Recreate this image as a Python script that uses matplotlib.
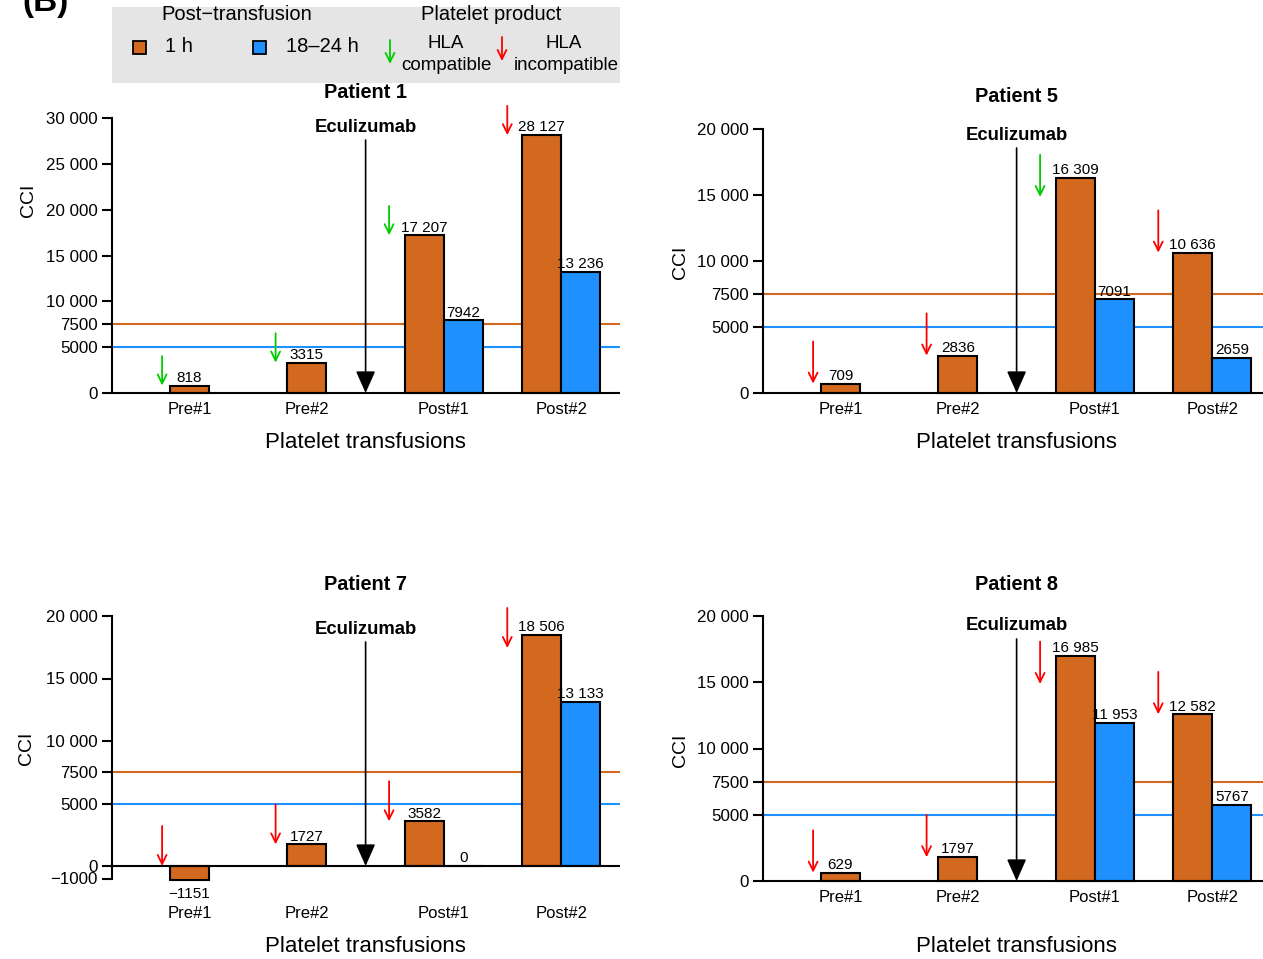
import numpy as np
import matplotlib
matplotlib.use("Agg")
import matplotlib.pyplot as plt
from matplotlib.patches import Rectangle, FancyArrowPatch

plt.rcParams['font.family'] = ['Liberation Sans', 'DejaVu Sans']

# ---- data -------------------------------------------------------------
categories = ["Pre#1", "Pre#2", "Post#1", "Post#2"]

# Corrected count increment (CCI) at 1 h and 18-24 h post-transfusion
p1_1h = [818, 3315, 17207, 28127]
p1_24h = [np.nan, np.nan, 7942, 13236]
p1_hla = ["compatible", "compatible", "compatible", "incompatible"]

p5_1h = [709, 2836, 16309, 10636]
p5_24h = [np.nan, np.nan, 7091, 2659]
p5_hla = ["incompatible", "incompatible", "compatible", "incompatible"]

p7_1h = [-1151, 1727, 3582, 18506]
p7_24h = [np.nan, np.nan, 0, 13133]
p7_hla = ["incompatible", "incompatible", "incompatible", "incompatible"]

p8_1h = [629, 1797, 16985, 12582]
p8_24h = [np.nan, np.nan, 11953, 5767]
p8_hla = ["incompatible", "incompatible", "incompatible", "incompatible"]

threshold_1h = 7500
threshold_24h = 5000

yticks_30k = [0, 5000, 7500, 10000, 15000, 20000, 25000, 30000]
yticks_20k = [0, 5000, 7500, 10000, 15000, 20000]
yticks_neg = [-1000, 0, 5000, 7500, 10000, 15000, 20000]

# ---- styling ----------------------------------------------------------
ORANGE = "#D2691E"
BLUE = "#1E90FF"
GREEN = "#00CC00"
RED = "#FF0000"
ARROW_COL = {"compatible": GREEN, "incompatible": RED}

W, H = 1263, 959
fig = plt.figure(figsize=(W / 100, H / 100), dpi=100)


def fx(px):
    return px / W


def fy(py):
    return 1 - py / H


def fmt(v):
    v = int(round(v))
    a = abs(v)
    s = f"{a:,}".replace(",", " ") if a >= 10000 else str(a)
    return ("\u2212" if v < 0 else "") + s


group_left = [0, 3, 6, 9]          # left edge of the 1 h bar in each group
arrow_dx = [-0.2, -0.3, -0.4, -0.38]
XMIN, XMAX = -1.48, 11.5
AX_W = 508
ARROW_LEN = 3200

panels = [
    dict(title="Patient 1", d1=p1_1h, d2=p1_24h, hla=p1_hla, yticks=yticks_30k,
         left=112, y0=393, ppu=275 / 30000, title_y=93, ecu_y=127,
         tick_y=409, xlab_y=443, ylab=(28, 200), tip_cap=None),
    dict(title="Patient 5", d1=p5_1h, d2=p5_24h, hla=p5_hla, yticks=yticks_20k,
         left=763, y0=393, ppu=264 / 20000, title_y=97, ecu_y=135,
         tick_y=409, xlab_y=443, ylab=(680, 262), tip_cap=14850),
    dict(title="Patient 7", d1=p7_1h, d2=p7_24h, hla=p7_hla, yticks=yticks_neg,
         left=112, y0=866, ppu=250 / 20000, title_y=584, ecu_y=629,
         tick_y=913, xlab_y=946, ylab=(27, 748), tip_cap=17440),
    dict(title="Patient 8", d1=p8_1h, d2=p8_24h, hla=p8_hla, yticks=yticks_20k,
         left=763, y0=881, ppu=265 / 20000, title_y=584, ecu_y=626,
         tick_y=897, xlab_y=946, ylab=(680, 750), tip_cap=14870),
]

for p in panels:
    y0, ppu, left = p["y0"], p["ppu"], p["left"]
    top_px = y0 - max(p["yticks"]) * ppu
    bot_px = y0 + 30

    def pix2data(py, y0=y0, ppu=ppu):
        return (y0 - py) / ppu

    ax = fig.add_axes([fx(left), fy(bot_px), AX_W / W, (bot_px - top_px) / H])
    ax.set_xlim(XMIN, XMAX)
    ax.set_ylim(pix2data(bot_px), pix2data(top_px))
    ax.patch.set_alpha(0)

    for s in ["top", "right", "bottom"]:
        ax.spines[s].set_visible(False)
    ax.spines["left"].set_linewidth(1.5)
    ax.spines["left"].set_bounds(min(p["yticks"]), max(p["yticks"]))
    ax.set_xticks([])
    ax.set_yticks(p["yticks"])
    ax.set_yticklabels([fmt(t) for t in p["yticks"]])
    ax.tick_params(axis="y", direction="out", length=7.5, width=1.5,
                   labelsize=12.2, pad=3, colors="black")

    # reference thresholds
    ax.axhline(threshold_1h, color=ORANGE, lw=1.5, zorder=1)
    ax.axhline(threshold_24h, color=BLUE, lw=1.5, zorder=1)

    # bars
    x1 = [g + 0.5 for g in group_left]
    x2 = [g + 1.5 for g in group_left]
    ax.bar(x1, p["d1"], width=1, color=ORANGE, edgecolor="black", lw=1.5, zorder=2)
    has2 = [not np.isnan(v) for v in p["d2"]]
    ax.bar([x for x, h in zip(x2, has2) if h], [v for v, h in zip(p["d2"], has2) if h],
           width=1, color=BLUE, edgecolor="black", lw=1.5, zorder=2)
    ax.axhline(0, color="black", lw=1.5, zorder=3)

    # value labels
    for xs, vals in ((x1, p["d1"]), (x2, p["d2"])):
        for x, v in zip(xs, vals):
            if np.isnan(v):
                continue
            if v < 0:
                ax.annotate(fmt(v), (x, v), xytext=(0, -5), textcoords="offset points",
                            ha="center", va="top", fontsize=11, zorder=5)
            else:
                ax.annotate(fmt(v), (x, v), xytext=(0, 0.5), textcoords="offset points",
                            ha="center", va="bottom", fontsize=11, zorder=5)

    # HLA compatibility arrows
    for g, dx, v, kind in zip(group_left, arrow_dx, p["d1"], p["hla"]):
        tip = max(v, 0)
        if p["tip_cap"] is not None:
            tip = min(tip, p["tip_cap"])
        ax.annotate("", xy=(g + dx, tip), xytext=(g + dx, tip + ARROW_LEN),
                    arrowprops=dict(arrowstyle="->,head_length=0.65,head_width=0.32",
                                    color=ARROW_COL[kind], lw=1.3,
                                    shrinkA=0, shrinkB=0),
                    annotation_clip=False, zorder=5)

    # x category labels
    for g, cat, h in zip(group_left, categories, has2):
        xc = g + 1.0 if h else g + 0.5
        ax.text(xc, pix2data(p["tick_y"]), cat, ha="center", va="center",
                fontsize=12, clip_on=False)

    # Eculizumab start marker
    ax.text(5, pix2data(p["ecu_y"]), "Eculizumab", ha="center", va="center",
            fontsize=13.3, fontweight="bold", clip_on=False)
    ax.annotate("", xy=(5, 0), xytext=(5, pix2data(p["ecu_y"] + 13)),
                arrowprops=dict(arrowstyle="-|>,head_length=1.35,head_width=0.6",
                                color="black", lw=1.2, shrinkA=0, shrinkB=0),
                annotation_clip=False, zorder=6)

    cx = left + (5 - XMIN) * AX_W / (XMAX - XMIN)
    fig.text(fx(cx), fy(p["title_y"]), p["title"], ha="center", va="center",
             fontsize=14.3, fontweight="bold")
    fig.text(fx(cx), fy(p["xlab_y"]), "Platelet transfusions", ha="center",
             va="center", fontsize=16)
    fig.text(fx(p["ylab"][0]), fy(p["ylab"][1]), "CCI", ha="center", va="center",
             rotation=90, fontsize=14)

# ---- legend box -------------------------------------------------------
fig.add_artist(Rectangle((fx(112), fy(83)), (620 - 112) / W, (83 - 7) / H,
                         transform=fig.transFigure, facecolor="#E5E5E5",
                         edgecolor="none", zorder=0))
fig.text(fx(237), fy(15), "Post\u2212transfusion", ha="center", va="center", fontsize=14.5)
fig.text(fx(491), fy(15), "Platelet product", ha="center", va="center", fontsize=14.5)
for cxp, col, lab, lx in ((139.5, ORANGE, "1 h", 165), (259, BLUE, "18\u201324 h", 286)):
    fig.add_artist(Rectangle((fx(cxp - 6.5), fy(53.5)), 13 / W, 13 / H,
                             transform=fig.transFigure, facecolor=col,
                             edgecolor="black", lw=1.3))
    fig.text(fx(lx), fy(47), lab, ha="left", va="center", fontsize=14.5)
for ax_x, top, bot, col in ((390, 40, 64, GREEN), (502, 37, 61, RED)):
    fig.add_artist(FancyArrowPatch((fx(ax_x), fy(top)), (fx(ax_x), fy(bot)),
                                   transform=fig.transFigure,
                                   arrowstyle="->,head_length=0.65,head_width=0.32",
                                   color=col, lw=1.3, mutation_scale=10,
                                   shrinkA=0, shrinkB=0))
fig.text(fx(446), fy(43), "HLA", ha="center", va="center", fontsize=13.5)
fig.text(fx(446), fy(65), "compatible", ha="center", va="center", fontsize=13.5)
fig.text(fx(564), fy(43), "HLA", ha="center", va="center", fontsize=13.5)
fig.text(fx(566), fy(65), "incompatible", ha="center", va="center", fontsize=13.5)

fig.text(fx(46), fy(3), "(B)", ha="center", va="center", fontsize=24, fontweight="bold")

fig.savefig("out.png", dpi=100)
